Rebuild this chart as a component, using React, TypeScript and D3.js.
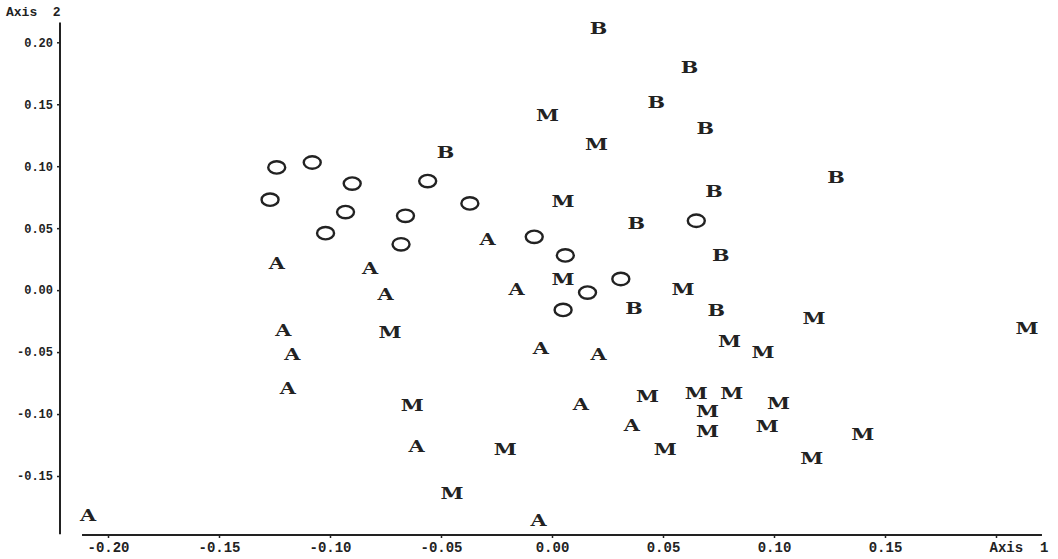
import React, { useRef, useEffect } from "react";
import * as d3 from "d3";

// points, [axis 1, axis 2]
const groupO = [
  [-0.124, 0.099], [-0.108, 0.103], [-0.09, 0.086], [-0.127, 0.073],
  [-0.093, 0.063], [-0.056, 0.088], [-0.102, 0.046], [-0.037, 0.07],
  [-0.066, 0.06], [-0.068, 0.037], [-0.008, 0.043], [0.006, 0.028],
  [0.031, 0.009], [0.016, -0.002], [0.005, -0.016], [0.065, 0.056],
];
const groupA = [
  [-0.124, 0.022], [-0.082, 0.018], [-0.075, -0.003], [-0.029, 0.041],
  [-0.016, 0.001], [-0.121, -0.032], [-0.117, -0.052], [-0.119, -0.079],
  [-0.005, -0.047], [0.021, -0.052], [0.013, -0.092], [0.036, -0.109],
  [-0.061, -0.126], [-0.209, -0.182], [-0.006, -0.186],
];
const groupB = [
  [0.021, 0.211], [0.062, 0.18], [0.047, 0.152], [0.069, 0.131],
  [-0.048, 0.111], [0.128, 0.091], [0.073, 0.08], [0.038, 0.054],
  [0.076, 0.028], [0.037, -0.015], [0.074, -0.016],
];
const groupM = [
  [-0.002, 0.141], [0.02, 0.118], [0.005, 0.072], [0.005, 0.009],
  [0.059, 0.001], [-0.073, -0.034], [0.08, -0.041], [0.095, -0.05],
  [0.118, -0.023], [0.214, -0.031], [-0.063, -0.093], [0.043, -0.086],
  [0.065, -0.083], [0.081, -0.083], [0.102, -0.091], [0.07, -0.098],
  [0.07, -0.114], [0.097, -0.11], [0.14, -0.116], [-0.021, -0.128],
  [0.051, -0.128], [0.117, -0.136], [-0.045, -0.164],
];

const yTicks = [0.2, 0.15, 0.1, 0.05, 0, -0.05, -0.1, -0.15];
const yTickLabels = ["0.20", "0.15", "0.10", "0.05", "0.00", "-0.05", "-0.10", "-0.15"];
const xTicks = [-0.2, -0.15, -0.1, -0.05, 0, 0.05, 0.1, 0.15, 0.2];
const xTickLabels = ["-0.20", "-0.15", "-0.10", "-0.05", "0.00", "0.05", "0.10", "0.15", "Axis  1"];

const ink = "#222";

const App = () => {
  const svgRef = useRef(null);

  useEffect(() => {
    const width = 1058;
    const height = 559;

    const svg = d3.select(svgRef.current);
    svg.selectAll("*").remove();
    svg.attr("width", width).attr("height", height);

    const x = d3.scaleLinear().domain([-0.2, 0.2]).range([108, 996]);
    const y = d3.scaleLinear().domain([-0.15, 0.2]).range([476, 42.3]);

    const axisX = 60;
    const axisY = 535;

    // y axis
    svg
      .append("line")
      .attr("x1", axisX)
      .attr("x2", axisX)
      .attr("y1", y(0.216))
      .attr("y2", y(-0.197))
      .attr("stroke", ink)
      .attr("stroke-width", 2);

    const yAxis = svg
      .append("g")
      .attr("transform", `translate(${axisX},0)`)
      .call(
        d3
          .axisLeft(y)
          .tickValues(yTicks)
          .tickFormat((d, i) => yTickLabels[i])
          .tickSize(3)
          .tickPadding(4)
      );
    yAxis.select(".domain").remove();
    yAxis.selectAll("line").attr("stroke", ink).attr("stroke-width", 1.5);
    yAxis
      .selectAll("text")
      .attr("fill", ink)
      .style("font-family", "Liberation Mono")
      .style("font-weight", "bold")
      .style("font-size", "12px");

    // x axis
    svg
      .append("line")
      .attr("x1", x(-0.2117))
      .attr("x2", x(0.2207))
      .attr("y1", axisY)
      .attr("y2", axisY)
      .attr("stroke", ink)
      .attr("stroke-width", 2);

    const xAxis = svg
      .append("g")
      .attr("transform", `translate(0,${axisY})`)
      .call(
        d3
          .axisBottom(x)
          .tickValues(xTicks)
          .tickFormat((d, i) => xTickLabels[i])
          .tickSize(3)
          .tickPadding(4)
      );
    xAxis.select(".domain").remove();
    xAxis.selectAll("line").attr("stroke", ink).attr("stroke-width", 1.5);
    xAxis
      .selectAll("text")
      .attr("fill", ink)
      .style("font-family", "Liberation Mono")
      .style("font-weight", "bold")
      .style("font-size", "14px")
      .style("white-space", "pre");
    xAxis
      .selectAll("text")
      .filter((d) => d === 0.2)
      .attr("text-anchor", "start")
      .attr("x", -7);

    svg
      .append("text")
      .attr("x", 6)
      .attr("y", 16)
      .attr("fill", ink)
      .style("font-family", "Liberation Mono")
      .style("font-weight", "bold")
      .style("font-size", "13px")
      .style("white-space", "pre")
      .text("Axis  2");

    // open ellipses
    svg
      .append("g")
      .selectAll("ellipse")
      .data(groupO)
      .join("ellipse")
      .attr("cx", (d) => x(d[0]))
      .attr("cy", (d) => y(d[1]))
      .attr("rx", 8.5)
      .attr("ry", 6.2)
      .attr("fill", "none")
      .attr("stroke", ink)
      .attr("stroke-width", 2.4);

    const letters = [
      { key: "A", pts: groupA },
      { key: "B", pts: groupB },
      { key: "M", pts: groupM },
    ];

    letters.forEach((g) => {
      svg
        .append("g")
        .selectAll("text")
        .data(g.pts)
        .join("text")
        .attr("transform", (d) => `translate(${x(d[0])},${y(d[1])}) scale(1.3,1)`)
        .attr("text-anchor", "middle")
        .attr("dy", "0.36em")
        .attr("fill", ink)
        .style("font-family", "DejaVu Serif")
        .style("font-weight", "bold")
        .style("font-size", "16px")
        .text(g.key);
    });
  }, []);

  return (
    <div style={{ position: "absolute", left: 0, top: 0, background: "#fff" }}>
      <svg ref={svgRef}></svg>
    </div>
  );
};

export default App;
